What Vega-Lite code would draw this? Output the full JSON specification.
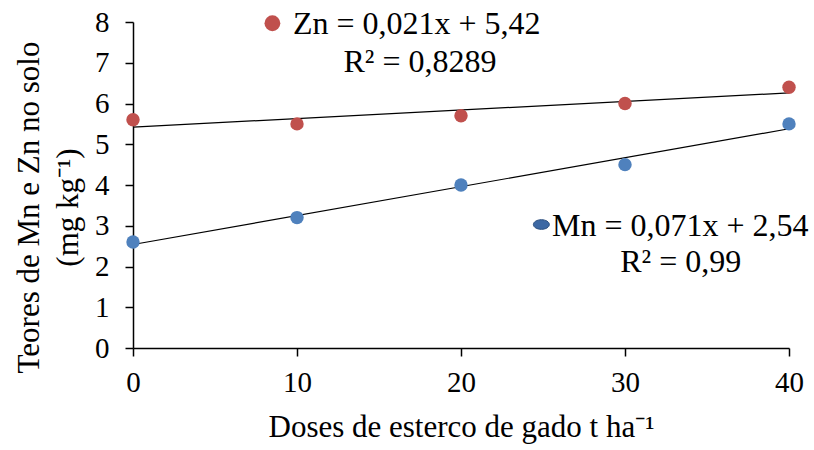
{
  "$schema": "https://vega.github.io/schema/vega-lite/v6.json",
  "width": 656,
  "height": 326,
  "autosize": {"type": "none"},
  "padding": {"left": 133, "top": 22, "right": 25, "bottom": 102},
  "background": "white",
  "config": {
    "font": "Liberation Serif",
    "view": {"stroke": null},
    "axis": {
      "grid": false,
      "labelFlush": false,
      "domainColor": "black",
      "domainWidth": 1.5,
      "tickColor": "black",
      "tickWidth": 1.5,
      "tickSize": 8,
      "labelFont": "Liberation Serif",
      "labelFontSize": 29,
      "labelColor": "black",
      "titleFont": "Liberation Serif",
      "titleFontSize": 31,
      "titleFontWeight": "normal",
      "titleColor": "black"
    }
  },
  "datasets": {
    "teores": [
      {"dose": 0, "elem": "Zn", "teor": 5.6},
      {"dose": 10, "elem": "Zn", "teor": 5.5},
      {"dose": 20, "elem": "Zn", "teor": 5.7},
      {"dose": 30, "elem": "Zn", "teor": 6.0},
      {"dose": 40, "elem": "Zn", "teor": 6.4},
      {"dose": 0, "elem": "Mn", "teor": 2.6},
      {"dose": 10, "elem": "Mn", "teor": 3.2},
      {"dose": 20, "elem": "Mn", "teor": 4.0},
      {"dose": 30, "elem": "Mn", "teor": 4.5},
      {"dose": 40, "elem": "Mn", "teor": 5.5}
    ],
    "tendencia": [
      {"dose": 0, "elem": "Zn", "teor": 5.42},
      {"dose": 40, "elem": "Zn", "teor": 6.26},
      {"dose": 0, "elem": "Mn", "teor": 2.54},
      {"dose": 40, "elem": "Mn", "teor": 5.38}
    ],
    "marcadores": [
      {"dose": 8.5, "teor": 7.97, "elem": "Zn"},
      {"dose": 24.9, "teor": 3.03, "elem": "Mn"}
    ],
    "equacoes": [
      {"dose": 9.75, "teor": 7.94, "texto": "Zn = 0,021x + 5,42"},
      {"dose": 25.55, "teor": 3.0, "texto": "Mn = 0,071x + 2,54"}
    ],
    "r2": [
      {"dose": 17.5, "teor": 7.01, "texto": "R² = 0,8289"},
      {"dose": 33.4, "teor": 2.1, "texto": "R² = 0,99"}
    ]
  },
  "encoding": {
    "x": {
      "field": "dose",
      "type": "quantitative",
      "scale": {"domain": [0, 40], "nice": false, "zero": false},
      "axis": {
        "values": [0, 10, 20, 30, 40],
        "labelPadding": 12,
        "title": "Doses de esterco de gado t ha⁻¹",
        "titlePadding": 15
      }
    },
    "y": {
      "field": "teor",
      "type": "quantitative",
      "scale": {"domain": [0, 8], "nice": false},
      "axis": {
        "values": [0, 1, 2, 3, 4, 5, 6, 7, 8],
        "labelPadding": 16,
        "title": ["Teores de Mn e Zn no solo", "(mg kg⁻¹)"],
        "titleLineHeight": 39,
        "titlePadding": 10,
        "titleY": 185
      }
    }
  },
  "layer": [
    {
      "data": {"name": "tendencia"},
      "mark": {"type": "line", "color": "black", "strokeWidth": 1.2},
      "encoding": {"detail": {"field": "elem"}}
    },
    {
      "data": {"name": "teores"},
      "mark": {"type": "circle", "size": 180, "opacity": 1},
      "encoding": {
        "color": {
          "field": "elem",
          "type": "nominal",
          "scale": {"domain": ["Zn", "Mn"], "range": ["#C0504D", "#4F81BD"]},
          "legend": null
        }
      }
    },
    {
      "data": {"name": "marcadores"},
      "transform": [{"filter": "datum.elem === 'Zn'"}],
      "mark": {"type": "circle", "size": 250, "opacity": 1, "color": "#C0504D"}
    },
    {
      "data": {"name": "marcadores"},
      "transform": [{"filter": "datum.elem === 'Mn'"}],
      "mark": {
        "type": "point",
        "shape": "M -1 0 A 1 0.6 0 1 0 1 0 A 1 0.6 0 1 0 -1 0 Z",
        "size": 256,
        "filled": true,
        "opacity": 1,
        "color": "#3D68A3",
        "stroke": "#2B4E7E",
        "strokeWidth": 1
      }
    },
    {
      "data": {"name": "equacoes"},
      "mark": {"type": "text", "align": "left", "baseline": "middle", "fontSize": 32, "color": "black"},
      "encoding": {"text": {"field": "texto"}}
    },
    {
      "data": {"name": "r2"},
      "mark": {"type": "text", "align": "center", "baseline": "middle", "fontSize": 32, "color": "black"},
      "encoding": {"text": {"field": "texto"}}
    }
  ]
}
